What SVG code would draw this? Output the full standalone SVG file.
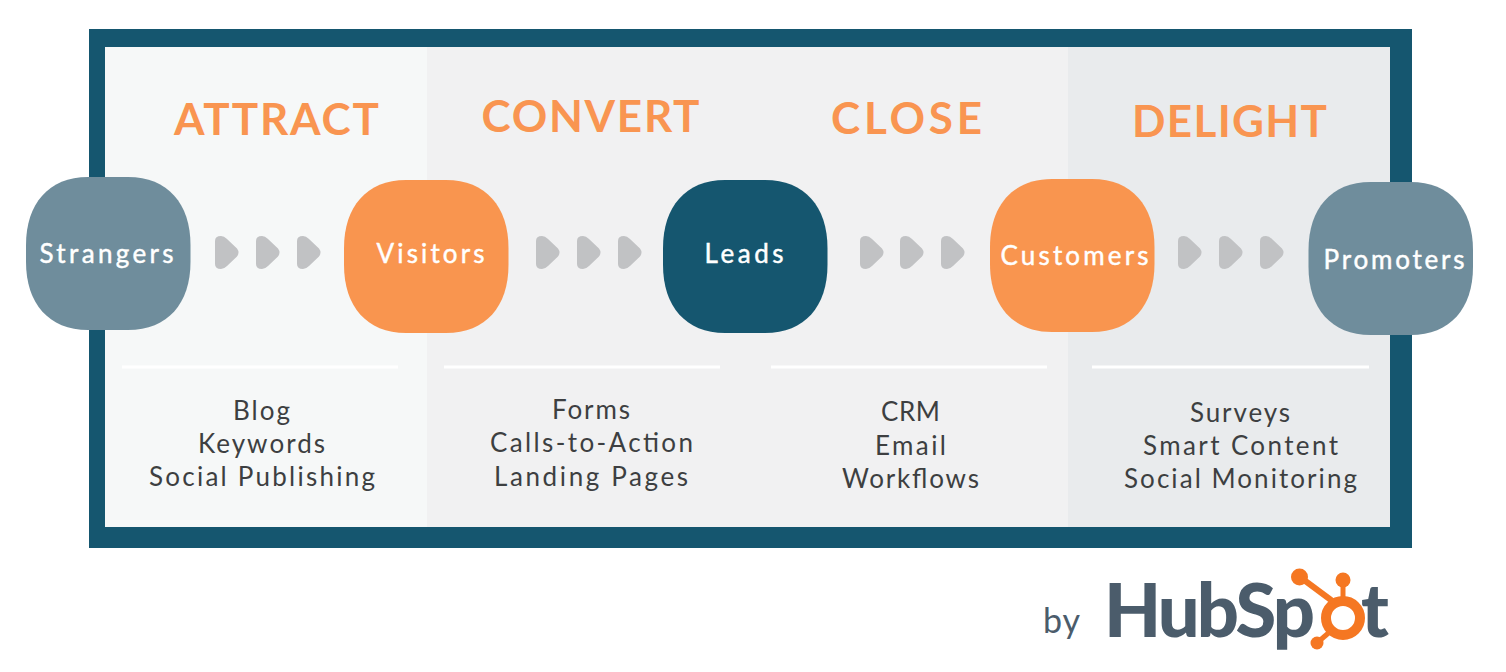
<svg xmlns="http://www.w3.org/2000/svg" width="1506" height="672" viewBox="0 0 1506 672">
<style>
text{font-family:"Lato","Liberation Sans",sans-serif}
.title{font-size:44px;font-weight:700;fill:#f99551}
.node{font-size:26px;font-weight:400;fill:#fff;stroke:#fff;stroke-width:.45px}
.item{font-size:26px;font-weight:400;fill:#3d3f41}
.rule{stroke:#fff;stroke-width:3;fill:none}
.slate{fill:#6f8d9c}.orange{fill:#f9954f}.navy{fill:#15566f}
.logo{font-size:74px;font-weight:900;fill:#4b5c6b}
</style>
<defs>
<path id="chevron" d="M0 5Q0 0 6 0Q9 0 12 3L22 12.500Q25 16.500 22 20.500L12 30Q9 33 6 33Q0 33 0 28Z" fill="#c1c2c4"/>
<path id="blob" d="M62 0H102C142 0 164.500 27 164.500 68V85C164.500 126 142 153 102 153H62C22.500 153 0 126 0 85V68C0 27 22.500 0 62 0Z"/>
</defs>
<rect width="1506" height="672" fill="#fff"/>
<g id="frame">
<rect x="89" y="29" width="1323" height="519" fill="#15566f"/>
<rect x="105" y="47" width="322" height="480" fill="#f6f8f8"/>
<rect x="427" y="47" width="321" height="480" fill="#f1f1f2"/>
<rect x="748" y="47" width="320" height="480" fill="#f1f1f2"/>
<rect x="1068" y="47" width="322" height="480" fill="#e9ebed"/>
</g>
<g id="stage-attract">
<text class="title" x="174" y="135" textLength="205">ATTRACT</text>
<line class="rule" x1="122" y1="367" x2="398" y2="367"/>
<text class="item" x="233" y="419.500" textLength="57">Blog</text>
<text class="item" x="198" y="452.500" textLength="127">Keywords</text>
<text class="item" x="149" y="485.500" textLength="226">Social Publishing</text>
</g>
<g id="stage-convert">
<text class="title" x="481.500" y="132" textLength="218">CONVERT</text>
<line class="rule" x1="444" y1="367" x2="720" y2="367"/>
<text class="item" x="552" y="418.500" textLength="78">Forms</text>
<text class="item" x="490" y="452" textLength="203">Calls-to-Action</text>
<text class="item" x="494" y="485.500" textLength="194">Landing Pages</text>
</g>
<g id="stage-close">
<text class="title" x="831" y="134" textLength="151">CLOSE</text>
<line class="rule" x1="771" y1="367" x2="1047" y2="367"/>
<text class="item" x="881" y="420.500" textLength="59">CRM</text>
<text class="item" x="875" y="454.500" textLength="71">Email</text>
<text class="item" x="842" y="487.500" textLength="137">Workflows</text>
</g>
<g id="stage-delight">
<text class="title" x="1132" y="137" textLength="195">DELIGHT</text>
<line class="rule" x1="1092" y1="367" x2="1369" y2="367"/>
<text class="item" x="1190" y="421.500" textLength="100">Surveys</text>
<text class="item" x="1143" y="455" textLength="195">Smart Content</text>
<text class="item" x="1124" y="487.500" textLength="233">Social Monitoring</text>
</g>
<g id="connectors">
<use href="#chevron" x="215" y="236"/><use href="#chevron" x="256" y="236"/><use href="#chevron" x="297" y="236"/>
<use href="#chevron" x="536" y="236"/><use href="#chevron" x="577" y="236"/><use href="#chevron" x="618" y="236"/>
<use href="#chevron" x="860" y="236"/><use href="#chevron" x="900" y="236"/><use href="#chevron" x="941" y="236"/>
<use href="#chevron" x="1178" y="236"/><use href="#chevron" x="1219" y="236"/><use href="#chevron" x="1260" y="236"/>
</g>
<g id="strangers"><use href="#blob" class="slate" x="26" y="177"/><text class="node" x="39.500" y="263" textLength="134">Strangers</text></g>
<g id="visitors"><use href="#blob" class="orange" x="344" y="180"/><text class="node" x="376.500" y="263" textLength="108">Visitors</text></g>
<g id="leads"><use href="#blob" class="navy" x="663" y="180"/><text class="node" x="704.500" y="263" textLength="79">Leads</text></g>
<g id="customers"><use href="#blob" class="orange" x="990" y="179"/><text class="node" x="1000.500" y="265" textLength="148">Customers</text></g>
<g id="promoters"><use href="#blob" class="slate" x="1308.500" y="182"/><text class="node" x="1323.500" y="269" textLength="141">Promoters</text></g>
<g id="brand">
<text x="1043" y="633" font-size="34" fill="#4b5c6b" textLength="37">by</text>
<text class="logo" x="1104" y="637" textLength="211">HubSp</text>
<text class="logo" x="1361" y="637" textLength="25">t</text>
<g fill="#f57722" stroke="none">
<circle cx="1299.500" cy="577" r="8.500"/><circle cx="1343" cy="580" r="7.500"/><circle cx="1317" cy="643" r="6.500"/>
</g>
<g fill="none" stroke="#f57722">
<circle cx="1343" cy="618" r="17" stroke-width="10"/>
<path d="M1343 585V600" stroke-width="5"/>
<path d="M1300 577L1335 603" stroke-width="6"/>
<path d="M1318 642L1332 630" stroke-width="5"/>
</g>
</g>
</svg>
